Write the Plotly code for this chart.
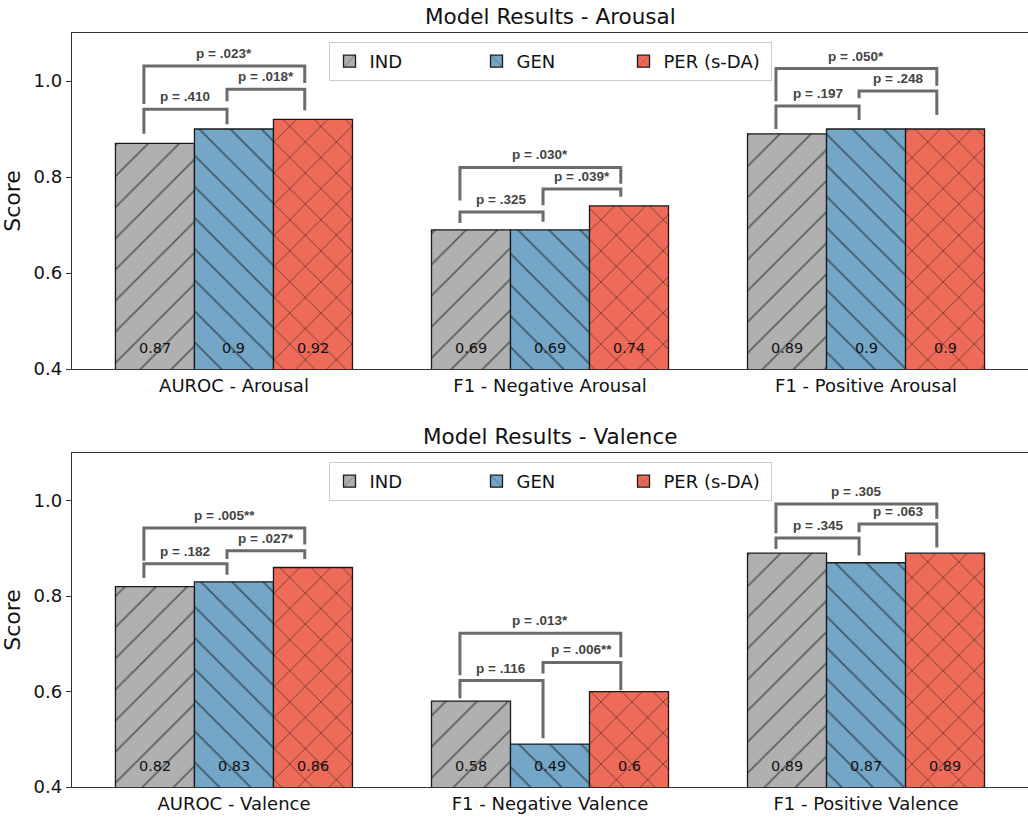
import plotly.graph_objects as go

# ---------------- data ----------------
models = ["IND", "GEN", "PER (s-DA)"]
arousal_categories = ["AUROC - Arousal", "F1 - Negative Arousal", "F1 - Positive Arousal"]
valence_categories = ["AUROC - Valence", "F1 - Negative Valence", "F1 - Positive Valence"]

arousal_ind = [0.87, 0.69, 0.89]
arousal_gen = [0.90, 0.69, 0.90]
arousal_per = [0.92, 0.74, 0.90]

valence_ind = [0.82, 0.58, 0.89]
valence_gen = [0.83, 0.49, 0.87]
valence_per = [0.86, 0.60, 0.89]

# significance pairs: (IND,GEN), (GEN,PER), (IND,PER)
pairs = [(0, 1), (1, 2), (0, 2)]
arousal_p = [["p = .410", "p = .018*", "p = .023*"],
             ["p = .325", "p = .039*", "p = .030*"],
             ["p = .197", "p = .248", "p = .050*"]]
valence_p = [["p = .182", "p = .027*", "p = .005**"],
             ["p = .116", "p = .006**", "p = .013*"],
             ["p = .345", "p = .063", "p = .305"]]

# bracket levels: (top line, left leg end, right leg end)
arousal_brackets = [[(0.941, 0.890, 0.910), (0.983, 0.958, 0.939), (1.031, 0.952, 0.996)],
                    [(0.727, 0.704, 0.707), (0.775, 0.741, 0.759), (0.820, 0.751, 0.786)],
                    [(0.948, 0.900, 0.919), (0.979, 0.964, 0.929), (1.026, 0.958, 0.990)]]
valence_brackets = [[(0.868, 0.838, 0.845), (0.895, 0.878, 0.878), (0.943, 0.874, 0.908)],
                    [(0.623, 0.586, 0.502), (0.661, 0.638, 0.603), (0.722, 0.634, 0.672)],
                    [(0.922, 0.899, 0.885), (0.951, 0.934, 0.902), (0.993, 0.932, 0.962)]]

# ---------------- style ----------------
colors = ["#b0b0b0", "#73a6c7", "#ee6a59"]
hatches = ["/", "\\", "x"]
leg_shift = [-0.035, -0.022, -0.026]
BAR_W = 0.25
FONT = "DejaVu Sans"
PFONT = "Liberation Sans"
BRACKET_COLOR = "#6b6b6b"

fig = go.Figure()

panels = [
    dict(xa="x", ya="y", legend="legend", cats=arousal_categories,
         series=[arousal_ind, arousal_gen, arousal_per], pv=arousal_p, br=arousal_brackets),
    dict(xa="x2", ya="y2", legend="legend2", cats=valence_categories,
         series=[valence_ind, valence_gen, valence_per], pv=valence_p, br=valence_brackets),
]

shapes = []
annotations = []

for p in panels:
    n = len(p["cats"])
    xs = list(range(n))
    for i, (m, vals) in enumerate(zip(models, p["series"])):
        off = -1.5 * BAR_W + i * BAR_W
        fig.add_trace(go.Bar(
            x=xs, y=vals, name=m, width=BAR_W, offset=off,
            xaxis=p["xa"], yaxis=p["ya"], legend=p["legend"],
            marker=dict(color=colors[i], line=dict(color="#1a1a1a", width=1.3),
                        pattern=dict(shape=hatches[i], fgcolor="#111111", bgcolor=colors[i],
                                     size=22, solidity=0.085)),
            hoverinfo="skip",
        ))
        for g, v in enumerate(vals):
            annotations.append(dict(
                x=g + off + BAR_W / 2, y=0.443, xref=p["xa"], yref=p["ya"],
                text=f"{v:g}", showarrow=False, font=dict(family=FONT, size=14.5, color="#111"),
                xanchor="center", yanchor="middle"))
    # significance brackets
    for g in range(n):
        for k, (a, b) in enumerate(pairs):
            h, yl, yr = p["br"][g][k]
            xl = g - 1.5 * BAR_W + (a + 0.5) * BAR_W + leg_shift[a]
            xr = g - 1.5 * BAR_W + (b + 0.5) * BAR_W + leg_shift[b]
            shapes.append(dict(
                type="path", xref=p["xa"], yref=p["ya"],
                path=f"M {xl},{yl} L {xl},{h} L {xr},{h} L {xr},{yr}",
                line=dict(color=BRACKET_COLOR, width=3)))
            annotations.append(dict(
                x=(xl + xr) / 2, y=h, xref=p["xa"], yref=p["ya"], text=f"<b>{p['pv'][g][k]}</b>",
                showarrow=False, xanchor="center", yanchor="bottom", yshift=3,
                font=dict(family=PFONT, size=13.5, color="#444")))

# titles
annotations.append(dict(x=0.5, y=1 - 16 / 820, xref="paper", yref="paper", text="Model Results - Arousal",
                        showarrow=False, font=dict(family=FONT, size=21.5, color="#111"),
                        xanchor="center", yanchor="middle"))
annotations.append(dict(x=0.5, y=1 - 436 / 820, xref="paper", yref="paper", text="Model Results - Valence",
                        showarrow=False, font=dict(family=FONT, size=21.5, color="#111"),
                        xanchor="center", yanchor="middle"))

axis_common = dict(showline=True, mirror=True, linecolor="#333", linewidth=1.3, automargin=False,
                   showgrid=False, zeroline=False, tickfont=dict(family=FONT, size=18, color="#111"))

xcommon = dict(axis_common, range=[-0.5125, 2.5125], tickmode="array", tickvals=[0, 1, 2], ticks="")
ycommon = dict(axis_common, range=[0.4, 1.1], tickmode="array", tickvals=[0.4, 0.6, 0.8, 1.0],
               tickformat=".1f", ticks="outside", ticklen=5, tickwidth=1.3, tickcolor="#333",
               title=dict(text="Score", font=dict(family=FONT, size=22, color="#111"), standoff=6))

legend_common = dict(orientation="h", x=0.5, xanchor="center", yanchor="top",
                     bgcolor="rgba(255,255,255,0.85)", bordercolor="#cccccc", borderwidth=1,
                     font=dict(family=FONT, size=18, color="#111"), entrywidth=102,
                     traceorder="normal")

fig.update_layout(
    width=1028, height=820,
    margin=dict(l=72, r=0, t=0, b=0, autoexpand=False),
    paper_bgcolor="white", plot_bgcolor="white",
    barmode="overlay",
    showlegend=True,
    xaxis=dict(xcommon, ticktext=arousal_categories, anchor="y", domain=[0, 1]),
    yaxis=dict(ycommon, anchor="x", domain=[1 - 369 / 820, 1 - 33 / 820]),
    xaxis2=dict(xcommon, ticktext=valence_categories, anchor="y2", domain=[0, 1]),
    yaxis2=dict(ycommon, anchor="x2", domain=[1 - 787 / 820, 1 - 453 / 820]),
    legend=dict(legend_common, y=1 - 42 / 820),
    legend2=dict(legend_common, y=1 - 462 / 820),
    shapes=shapes,
    annotations=annotations,
)

fig.write_html("out.html", config={"displayModeBar": False},
               post_script="document.body.style.margin='0px';")
